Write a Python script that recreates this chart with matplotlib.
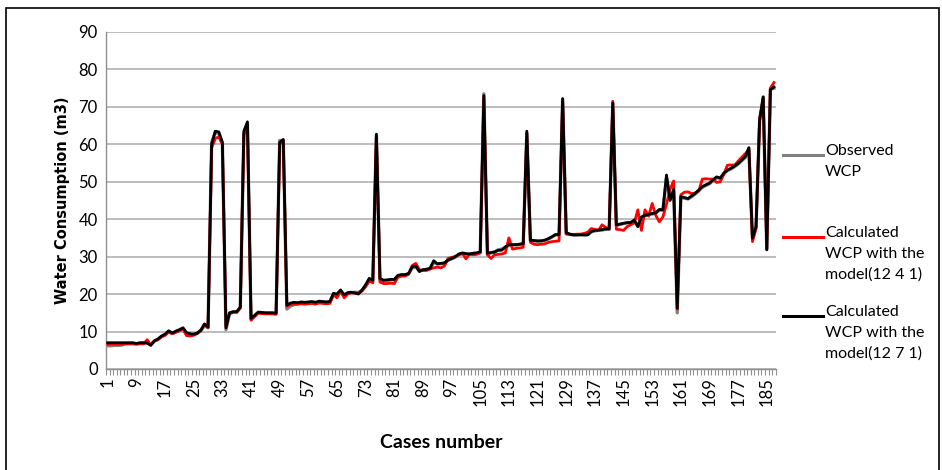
import matplotlib
matplotlib.use("Agg")
import matplotlib.pyplot as plt
import numpy as np
from matplotlib.lines import Line2D
from matplotlib.patches import Rectangle

plt.rcParams["font.family"] = ["Lato", "DejaVu Sans"]

# model (12 7 1)
calc_1271 = [
    7.0, 7.0, 7.0, 7.0, 7.0, 7.0, 7.0, 7.0, 6.8, 7.0,
    7.0, 6.9, 6.3, 7.5, 8.0, 8.8, 9.3, 10.2, 9.6, 10.1,
    10.5, 11.0, 9.7, 9.4, 9.3, 9.6, 10.3, 12.0, 11.2, 60.0,
    63.5, 63.3, 60.5, 11.0, 15.0, 15.3, 15.3, 16.5, 63.5, 66.0,
    13.5, 14.3, 15.2, 15.1, 15.0, 15.0, 15.0, 14.9, 60.5, 61.3,
    17.0, 17.6, 17.8, 17.7, 17.9, 17.8, 17.9, 18.0, 17.8, 18.1,
    18.0, 17.9, 18.0, 20.2, 20.0, 21.1, 19.8, 20.4, 20.5, 20.3,
    20.0, 21.1, 22.5, 24.2, 23.7, 62.7, 24.2, 23.7, 23.8, 23.9,
    23.9, 25.0, 25.2, 25.2, 25.5, 27.3, 27.5, 26.0, 26.5, 26.6,
    26.9, 28.9, 28.1, 28.2, 28.3, 29.1, 29.5, 30.0, 30.7, 31.0,
    30.8, 30.7, 30.9, 31.0, 31.3, 73.0, 30.9, 31.1, 31.2, 31.7,
    31.7, 32.6, 33.2, 33.2, 33.2, 33.3, 33.5, 63.5, 34.4, 34.3,
    34.2, 34.2, 34.4, 34.8, 35.3, 35.9, 35.9, 72.2, 36.4, 36.0,
    35.8, 35.8, 35.8, 35.8, 35.8, 36.7, 37.0, 37.1, 37.2, 37.4,
    37.4, 71.0, 38.5, 38.7, 38.9, 39.1, 39.1, 39.8, 38.0, 40.6,
    41.0, 41.3, 41.5, 41.7, 42.6, 42.5, 51.8, 45.0, 48.0, 16.2,
    46.0, 45.8, 45.5, 46.2, 46.9, 47.8, 48.7, 49.2, 49.6, 50.5,
    51.3, 51.0, 52.3, 53.1, 53.6, 54.2, 54.9, 55.8, 56.7, 59.1,
    34.9, 38.0, 66.5, 72.7, 31.8, 74.5, 75.3,
]

# model (12 4 1)
calc_1241 = [
    6.6, 6.6, 6.6, 6.6, 6.6, 6.7, 6.7, 6.7, 6.6, 6.7,
    6.7, 7.8, 6.4, 7.5, 7.8, 8.6, 9.0, 9.9, 9.4, 9.8,
    10.2, 10.6, 8.9, 8.8, 9.0, 9.5, 10.5, 12.0, 11.0, 59.0,
    61.5, 62.0, 60.0, 11.5, 14.8, 15.1, 15.1, 16.3, 62.5, 65.0,
    13.0, 14.0, 14.9, 14.8, 14.7, 14.7, 14.7, 14.6, 60.0, 61.0,
    16.8, 17.2, 17.3, 17.3, 17.4, 17.3, 17.4, 17.5, 17.3, 17.6,
    17.5, 17.4, 17.5, 19.8, 19.0, 20.8, 19.0, 20.0, 20.4, 20.2,
    20.3, 20.8, 22.0, 23.5, 23.0, 62.0, 23.2, 22.8, 22.8, 22.9,
    22.8, 24.5, 24.8, 24.8, 25.3, 27.6, 28.2, 26.5, 26.3, 26.3,
    26.7, 27.0, 27.2, 27.0, 27.5, 29.5, 29.8, 30.0, 30.5, 30.9,
    29.4, 30.7, 30.5, 30.6, 31.0, 72.5, 30.5, 29.5, 30.5, 30.6,
    30.7, 31.0, 35.0, 32.0, 32.2, 32.3, 32.5, 62.8, 33.8, 33.3,
    33.2, 33.3, 33.4, 33.8, 34.0, 34.1, 34.2, 71.5, 36.0, 36.0,
    35.9, 36.0, 36.0, 36.2, 36.5, 37.5, 37.3, 37.0, 38.5, 37.8,
    37.5, 71.5, 37.3, 37.2, 37.0, 38.0, 38.5, 39.0, 42.5, 37.0,
    42.5, 40.8, 44.2, 41.0, 39.3, 40.6, 44.0, 48.0, 50.2, 16.0,
    46.5, 47.2, 47.3, 46.8, 47.0, 47.5, 50.7, 50.8, 50.7, 50.7,
    49.8, 50.0, 52.0, 54.4, 54.5, 54.4, 55.5, 56.5, 57.5, 58.5,
    34.0, 37.5, 67.0, 72.0, 32.0, 75.0, 76.5,
]

observed = [
    6.2, 6.2, 6.3, 6.3, 6.4, 6.8, 6.8, 6.8, 6.7, 6.9,
    6.9, 7.0, 6.5, 7.4, 7.9, 8.6, 9.1, 9.9, 9.5, 9.9,
    10.3, 10.8, 9.4, 9.2, 9.2, 9.5, 10.2, 11.6, 11.0, 60.5,
    63.0, 63.0, 60.3, 10.5, 14.8, 15.2, 15.2, 16.3, 63.0, 65.5,
    13.3, 14.2, 15.0, 15.0, 14.9, 14.9, 14.9, 14.8, 61.0, 61.0,
    16.0, 16.8, 17.2, 17.4, 17.6, 17.6, 17.7, 17.8, 17.7, 17.9,
    17.8, 17.8, 17.8, 19.9, 19.7, 20.7, 19.6, 20.2, 20.3, 20.5,
    20.4, 21.0, 22.2, 23.6, 23.4, 62.5, 23.8, 23.5, 23.6, 23.8,
    23.8, 24.8, 25.0, 25.1, 25.4, 27.0, 27.2, 26.2, 26.4, 26.6,
    26.8, 28.5, 28.0, 28.1, 28.3, 29.0, 29.4, 29.8, 30.5, 30.8,
    30.7, 30.6, 30.8, 30.9, 31.1, 73.5, 30.6, 31.0, 31.3, 31.8,
    32.0, 32.5, 33.0, 33.1, 33.1, 33.3, 33.4, 63.0, 34.2, 34.2,
    34.1, 34.2, 34.3, 34.7, 35.2, 35.8, 35.8, 72.0, 36.2, 35.9,
    35.8, 35.8, 35.9, 35.8, 35.9, 36.6, 36.9, 37.0, 37.1, 37.3,
    37.3, 71.0, 38.3, 38.6, 38.8, 39.0, 39.0, 39.5, 38.2, 40.3,
    40.9, 41.2, 41.4, 41.6, 42.4, 42.4, 51.0, 45.2, 47.5, 15.0,
    45.8, 45.6, 45.4, 46.0, 46.7, 47.6, 48.5, 49.0, 49.5, 50.3,
    51.1, 50.9, 52.1, 53.0, 53.4, 54.0, 54.7, 55.6, 56.5, 58.8,
    35.0, 38.0, 66.0, 72.5, 32.0, 74.8, 75.0,
]

cases = np.arange(1, len(calc_1271) + 1)
tick_cases = list(range(1, 188, 8))

fig = plt.figure(figsize=(9.42, 4.70), dpi=100)
ax = fig.add_axes([0.1125, 0.215, 0.711, 0.717])

ax.plot(cases, observed, color="#808080", linewidth=2.4, zorder=2)
ax.plot(cases, calc_1241, color="#ff0000", linewidth=2.0, zorder=3)
ax.plot(cases, calc_1271, color="#000000", linewidth=2.0, zorder=4)

ax.set_xlim(0.5, len(cases) + 0.5)
ax.set_ylim(0, 90)
ax.set_yticks(range(0, 91, 10))
ax.yaxis.grid(True, color="#b0b0b0", linewidth=1.2)
ax.set_axisbelow(True)
ax.tick_params(axis="y", length=0, labelsize=12, pad=6)

ax.set_xticks(tick_cases)
ax.set_xticklabels([str(c) for c in tick_cases], rotation=90, fontsize=12)
ax.set_xticks(np.arange(0.5, len(cases) + 1), minor=True)
ax.tick_params(axis="x", which="major", length=0, pad=6)
ax.tick_params(axis="x", which="minor", length=4, color="#909090", width=0.8)

for side in ["top", "right"]:
    ax.spines[side].set_visible(False)
for side in ["left", "bottom"]:
    ax.spines[side].set_color("#909090")
    ax.spines[side].set_linewidth(1.0)

ax.set_ylabel("Water Consumption (m3)", fontsize=10.5, fontweight="bold",
              family="DejaVu Sans", labelpad=6)
ax.set_xlabel("Cases number", fontsize=14, fontweight="bold", labelpad=20)

# legend drawn by hand so the swatch sits on the first text line
legend_items = [
    ("Observed\nWCP", "#808080", 155),
    ("Calculated\nWCP with the\nmodel(12 4 1)", "#ff0000", 237),
    ("Calculated\nWCP with the\nmodel(12 7 1)", "#000000", 316),
]
for label, color, ypx in legend_items:
    yf = 1 - ypx / 470
    fig.add_artist(Line2D([783 / 942, 823 / 942], [yf, yf], color=color, linewidth=2.2))
    fig.text(825 / 942, yf + 11 / 470, label, fontsize=11.5, va="top", ha="left",
             linespacing=1.6)

fig.add_artist(Rectangle((0.006, -0.01), 0.991, 0.993, transform=fig.transFigure,
                         fill=False, edgecolor="black", linewidth=1.2))

fig.savefig("out.png", dpi=100)
